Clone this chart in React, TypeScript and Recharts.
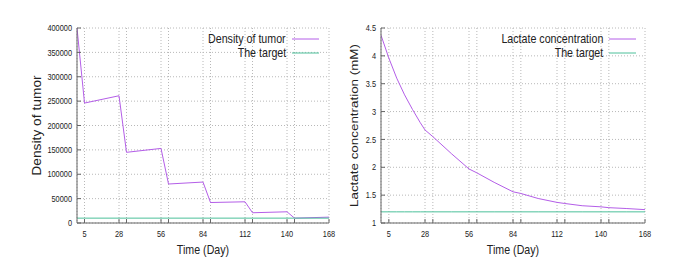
import React from "react";
import { LineChart, Line, XAxis, YAxis, CartesianGrid, Legend, Label } from "recharts";

const xTicks = [5, 28, 33, 56, 61, 84, 89, 112, 117, 140, 145, 168];
const xLabeled = [5, 28, 56, 84, 112, 140, 168];

const tumorDays = [0, 5, 28, 33, 56, 61, 84, 89, 112, 117, 140, 145, 168];
const tumorValues = [400000, 246000, 261000, 145000, 153000, 80000, 84000, 42000, 43500, 21000, 23000, 10000, 12000];
const tumorTarget = 10000;
const tumorYTicks = [0, 50000, 100000, 150000, 200000, 250000, 300000, 350000, 400000];

const lactateDays = [0, 5, 10, 15, 20, 25, 28, 33, 45, 56, 61, 72, 84, 89, 100, 112, 117, 128, 140, 145, 156, 168];
const lactateValues = [4.37, 3.96, 3.6, 3.3, 3.04, 2.8, 2.67, 2.55, 2.24, 1.97, 1.9, 1.73, 1.56, 1.53, 1.44, 1.37, 1.35, 1.31, 1.29, 1.275, 1.26, 1.24];
const lactateTarget = 1.2;
const lactateYTicks = [1, 1.5, 2, 2.5, 3, 3.5, 4, 4.5];

const tumorData = tumorDays.map((d, i) => ({ day: d, tumor: tumorValues[i], target: tumorTarget }));
const lactateData = lactateDays.map((d, i) => ({ day: d, lactate: lactateValues[i], target: lactateTarget }));

const PURPLE = "#b45ee8";
const GREEN = "#4cc09a";
const BORDER = "#666";
const FONT = "'Liberation Sans', Arial, sans-serif";
const SQ = 0.82;
const TL = 4;

const SqText = ({ x, y, anchor, size, children }: any) => (
  <text transform={`translate(${x} ${y}) scale(${SQ} 1)`} textAnchor={anchor} fontSize={size} fontFamily={FONT} fill="#222">
    {children}
  </text>
);

const BottomTick = (props: any) => {
  const { x, y, payload } = props;
  return (
    <g>
      <line x1={x} x2={x} y1={y} y2={y - TL} stroke={BORDER} />
      {xLabeled.includes(payload.value) && (
        <SqText x={x} y={y + 14} anchor="middle" size={9}>{payload.value}</SqText>
      )}
    </g>
  );
};
const TopTick = (props: any) => {
  const { x, y } = props;
  return <line x1={x} x2={x} y1={y} y2={y + TL} stroke={BORDER} />;
};
const LeftTick = (props: any) => {
  const { x, y, payload } = props;
  return (
    <g>
      <line x1={x} x2={x + TL} y1={y} y2={y} stroke={BORDER} />
      <SqText x={x - 5} y={y + 3.2} anchor="end" size={9}>{payload.value}</SqText>
    </g>
  );
};
const RightTick = (props: any) => {
  const { x, y } = props;
  return <line x1={x} x2={x - TL} y1={y} y2={y} stroke={BORDER} />;
};

const XTitle = (props: any) => {
  const vb = props.viewBox || { x: 0, y: 223, width: 0, height: 44 };
  return (
    <SqText x={vb.x + vb.width / 2} y={vb.y + vb.height - 13} anchor="middle" size={13}>
      Time (Day)
    </SqText>
  );
};
const makeYTitle = (text: string, shift: number, size: number) => (props: any) => {
  const vb = props.viewBox || { x: 0, y: 28, width: 40, height: 195 };
  const cx = vb.x + vb.width / 2 + shift;
  const cy = vb.y + vb.height / 2;
  return (
    <text transform={`translate(${cx} ${cy}) scale(0.88 1) rotate(-90)`} textAnchor="middle" dy={5}
      fontSize={size} fontFamily={FONT} fill="#222">
      {text}
    </text>
  );
};

const makeLegend = (names: Record<string, string>) => (props: any) => {
  const { payload } = props;
  return (
    <div style={{ display: "flex", flexDirection: "column", alignItems: "flex-end" }}>
      {(payload || []).map((p: any) => (
        <div key={p.value} style={{ display: "flex", alignItems: "center", height: 14 }}>
          <span style={{ fontFamily: FONT, fontSize: 13, color: "#222", lineHeight: "14px", display: "inline-block",
            transform: `scaleX(${SQ})`, transformOrigin: "right center", whiteSpace: "nowrap" }}>
            {names[p.dataKey] ?? p.value}
          </span>
          <svg width={33} height={14} style={{ display: "block" }}>
            <line x1={6} x2={33} y1={7} y2={7} stroke={p.color} strokeWidth={1} />
          </svg>
        </div>
      ))}
    </div>
  );
};

const tumorNames = { tumor: "Density of tumor", target: "The target" };
const lactateNames = { lactate: "Lactate concentration", target: "The target" };

export default function App() {
  return (
    <div style={{ position: "absolute", left: 0, top: 0, width: 684, height: 267, background: "#fff" }}>
      <div style={{ position: "absolute", left: 0, top: 0 }}>
        <LineChart width={342} height={267} data={tumorData} margin={{ top: 28, right: 13, bottom: 0, left: 0 }}>
          <CartesianGrid strokeDasharray="1 2" stroke="#b8b8b8" />
          <XAxis dataKey="day" type="number" domain={[0, 168]} ticks={xTicks} interval={0} height={44}
            tickSize={0} tickMargin={0} tick={BottomTick} axisLine={{ stroke: BORDER }} tickLine={false} allowDataOverflow>
            <Label content={XTitle} />
          </XAxis>
          <XAxis xAxisId="top" orientation="top" dataKey="day" type="number" domain={[0, 168]} ticks={xTicks} interval={0}
            height={0} tickSize={0} tickMargin={0} tick={TopTick} axisLine={{ stroke: BORDER }} tickLine={false} allowDataOverflow />
          <YAxis type="number" domain={[0, 400000]} ticks={tumorYTicks} interval={0} width={77}
            tickSize={0} tickMargin={0} tick={LeftTick} axisLine={{ stroke: BORDER }} tickLine={false} allowDataOverflow>
            <Label content={makeYTitle("Density of tumor", -1.5, 13.8)} />
          </YAxis>
          <YAxis yAxisId="right" orientation="right" type="number" domain={[0, 400000]} ticks={tumorYTicks} interval={0} width={0}
            tickSize={0} tickMargin={0} tick={RightTick} axisLine={{ stroke: BORDER }} tickLine={false} allowDataOverflow />
          <Legend layout="vertical" align="center" verticalAlign="middle"
            wrapperStyle={{ top: 32, left: 0, width: 319, height: 28 }} content={makeLegend(tumorNames)} />
          <Line dataKey="tumor" name="Density of tumor" stroke={PURPLE} strokeWidth={1} dot={false} isAnimationActive={false} />
          <Line dataKey="target" name="The target" stroke={GREEN} strokeWidth={1} dot={false} isAnimationActive={false} />
        </LineChart>
      </div>
      <div style={{ position: "absolute", left: 342, top: 0 }}>
        <LineChart width={342} height={267} data={lactateData} margin={{ top: 28, right: 39, bottom: 0, left: 0 }}>
          <CartesianGrid strokeDasharray="1 2" stroke="#b8b8b8" />
          <XAxis dataKey="day" type="number" domain={[0, 168]} ticks={xTicks} interval={0} height={44}
            tickSize={0} tickMargin={0} tick={BottomTick} axisLine={{ stroke: BORDER }} tickLine={false} allowDataOverflow>
            <Label content={XTitle} />
          </XAxis>
          <XAxis xAxisId="top" orientation="top" dataKey="day" type="number" domain={[0, 168]} ticks={xTicks} interval={0}
            height={0} tickSize={0} tickMargin={0} tick={TopTick} axisLine={{ stroke: BORDER }} tickLine={false} allowDataOverflow />
          <YAxis type="number" domain={[1, 4.5]} ticks={lactateYTicks} interval={0} width={39}
            tickSize={0} tickMargin={0} tick={LeftTick} axisLine={{ stroke: BORDER }} tickLine={false} allowDataOverflow>
            <Label content={makeYTitle("Lactate concentration (mM)", -7.5, 13.4)} />
          </YAxis>
          <YAxis yAxisId="right" orientation="right" type="number" domain={[1, 4.5]} ticks={lactateYTicks} interval={0} width={0}
            tickSize={0} tickMargin={0} tick={RightTick} axisLine={{ stroke: BORDER }} tickLine={false} allowDataOverflow />
          <Legend layout="vertical" align="center" verticalAlign="middle"
            wrapperStyle={{ top: 32, left: 0, width: 294, height: 28 }} content={makeLegend(lactateNames)} />
          <Line dataKey="lactate" name="Lactate concentration" stroke={PURPLE} strokeWidth={1} dot={false} isAnimationActive={false} />
          <Line dataKey="target" name="The target" stroke={GREEN} strokeWidth={1} dot={false} isAnimationActive={false} />
        </LineChart>
      </div>
    </div>
  );
}
